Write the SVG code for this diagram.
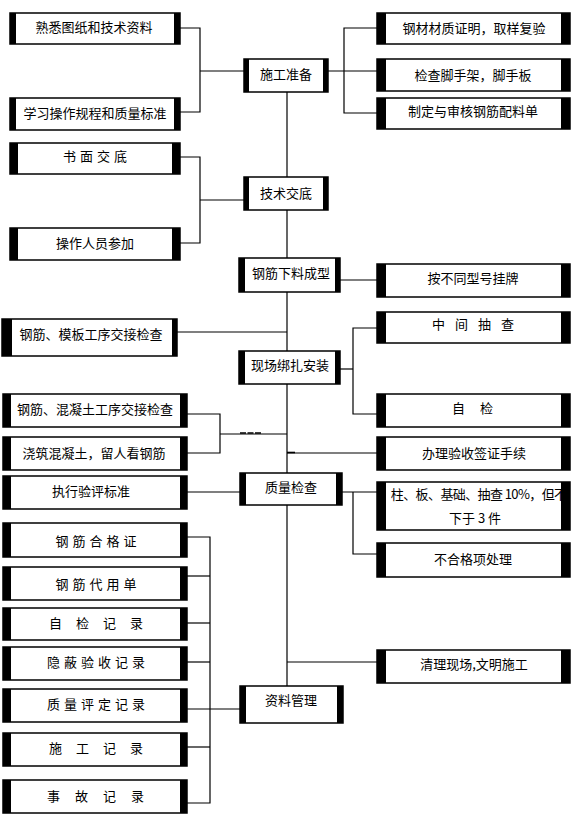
<svg xmlns="http://www.w3.org/2000/svg" width="576" height="818" viewBox="0 0 576 818">
<style>
.box{fill:#fff;stroke:#000;stroke-width:1.5}
.bar{fill:#000}
.t{font-family:"Noto Sans CJK SC","Noto Sans",sans-serif;font-size:13px;fill:#000;text-anchor:middle;dominant-baseline:central}
.ln{fill:none;stroke:#000;stroke-width:1.2}
</style>
<defs>
<clipPath id="clipQ"><rect x="377" y="482" width="193" height="48"/></clipPath>
</defs>
<rect width="576" height="818" fill="#fff"/>
<g id="connectors" class="ln">
<polyline points="180,28 200,28 200,112 180,112"/>
<line x1="200" y1="71" x2="244" y2="71"/>
<line x1="328" y1="71" x2="377" y2="71"/>
<polyline points="377,28 344,28 344,113 377,113"/>
<polyline points="180,157 200,157 200,243 180,243"/>
<line x1="200" y1="200" x2="244" y2="200"/>
<line x1="287" y1="92" x2="287" y2="177"/>
<line x1="287" y1="210" x2="287" y2="258"/>
<line x1="287" y1="292" x2="287" y2="351"/>
<line x1="287" y1="384" x2="287" y2="473"/>
<line x1="287" y1="505" x2="287" y2="686"/>
<line x1="340" y1="280" x2="377" y2="280"/>
<line x1="177" y1="332" x2="287" y2="332"/>
<line x1="340" y1="369" x2="353" y2="369"/>
<polyline points="377,328 353,328 353,414 377,414"/>
<polyline points="187,414 220,414 220,453 187,453"/>
<line x1="220" y1="434" x2="287" y2="434"/>
<line x1="240" y1="433" x2="262" y2="433" stroke-width="1.6" stroke-dasharray="6,1.5"/>
<line x1="287" y1="453" x2="377" y2="453"/>
<line x1="287" y1="452.5" x2="295" y2="452.5" stroke-width="1.6"/>
<line x1="187" y1="492" x2="240" y2="492"/>
<line x1="342" y1="492" x2="377" y2="492"/>
<polyline points="353,492 353,554 377,554"/>
<polyline points="187,537 210,537 210,803 187,803"/>
<line x1="187" y1="576" x2="210" y2="576"/>
<line x1="187" y1="623" x2="210" y2="623"/>
<line x1="187" y1="662" x2="210" y2="662"/>
<line x1="187" y1="709" x2="240" y2="709"/>
<line x1="187" y1="747" x2="210" y2="747"/>
<line x1="287" y1="662" x2="377" y2="662"/>
</g>

<g id="n_sgzb"><rect class="box" x="244" y="59" width="84" height="33"/><rect class="bar" x="244" y="59" width="5" height="33"/><rect class="bar" x="323" y="59" width="5" height="33"/><text class="t" x="286" y="73">施工准备</text></g>
<g id="n_jsjd"><rect class="box" x="244" y="177" width="84" height="33"/><rect class="bar" x="244" y="177" width="5" height="33"/><rect class="bar" x="323" y="177" width="5" height="33"/><text class="t" x="286" y="192">技术交底</text></g>
<g id="n_xlcx"><rect class="box" x="239" y="258" width="101" height="34"/><rect class="bar" x="239" y="258" width="6" height="34"/><rect class="bar" x="335" y="258" width="5" height="34"/><text class="t" x="291" y="272">钢筋下料成型</text></g>
<g id="n_xcbz"><rect class="box" x="239" y="351" width="101" height="33"/><rect class="bar" x="239" y="351" width="6" height="33"/><rect class="bar" x="335" y="351" width="5" height="33"/><text class="t" x="290" y="364">现场绑扎安装</text></g>
<g id="n_zljc"><rect class="box" x="240" y="473" width="102" height="32"/><rect class="bar" x="240" y="473" width="6" height="32"/><rect class="bar" x="336" y="473" width="6" height="32"/><text class="t" x="291" y="486">质量检查</text></g>
<g id="n_zlgl"><rect class="box" x="240" y="686" width="103" height="37"/><rect class="bar" x="240" y="686" width="6" height="37"/><rect class="bar" x="337" y="686" width="6" height="37"/><text class="t" x="291" y="699">资料管理</text></g>

<g id="n_l1"><rect class="box" x="10" y="13" width="170" height="31"/><rect class="bar" x="10" y="13" width="6" height="31"/><rect class="bar" x="174" y="13" width="6" height="31"/><text class="t" x="94" y="26">熟悉图纸和技术资料</text></g>
<g id="n_l2"><rect class="box" x="10" y="98" width="170" height="32"/><rect class="bar" x="10" y="98" width="6" height="32"/><rect class="bar" x="174" y="98" width="6" height="32"/><text class="t" x="95" y="112">学习操作规程和质量标准</text></g>
<g id="n_l3"><rect class="box" x="10" y="143" width="170" height="31"/><rect class="bar" x="10" y="143" width="8" height="31"/><rect class="bar" x="172" y="143" width="8" height="31"/><text class="t" x="97" y="155" letter-spacing="4">书面交底</text></g>
<g id="n_l4"><rect class="box" x="10" y="228" width="170" height="32"/><rect class="bar" x="10" y="228" width="8" height="32"/><rect class="bar" x="172" y="228" width="8" height="32"/><text class="t" x="95" y="242">操作人员参加</text></g>
<g id="n_l5"><rect class="box" x="2" y="319" width="175" height="37"/><rect class="bar" x="2" y="319" width="10" height="37"/><rect class="bar" x="172" y="319" width="5" height="37"/><text class="t" x="91" y="333">钢筋、模板工序交接检查</text></g>
<g id="n_l6"><rect class="box" x="3" y="394" width="184" height="33"/><rect class="bar" x="3" y="394" width="8" height="33"/><rect class="bar" x="180" y="394" width="7" height="33"/><text class="t" x="95" y="408">钢筋、混凝土工序交接检查</text></g>
<g id="n_l7"><rect class="box" x="3" y="437" width="184" height="33"/><rect class="bar" x="3" y="437" width="8" height="33"/><rect class="bar" x="180" y="437" width="7" height="33"/><text class="t" x="94" y="452">浇筑混凝土，留人看钢筋</text></g>
<g id="n_l8"><rect class="box" x="3" y="476" width="184" height="33"/><rect class="bar" x="3" y="476" width="8" height="33"/><rect class="bar" x="180" y="476" width="7" height="33"/><text class="t" x="91" y="490">执行验评标准</text></g>
<g id="n_l9"><rect class="box" x="3" y="523" width="184" height="34"/><rect class="bar" x="3" y="523" width="8" height="34"/><rect class="bar" x="180" y="523" width="7" height="34"/><text class="t" x="98" y="540" letter-spacing="4">钢筋合格证</text></g>
<g id="n_l10"><rect class="box" x="3" y="567" width="184" height="33"/><rect class="bar" x="3" y="567" width="8" height="33"/><rect class="bar" x="180" y="567" width="7" height="33"/><text class="t" x="98" y="583" letter-spacing="4">钢筋代用单</text></g>
<g id="n_l11"><rect class="box" x="3" y="608" width="184" height="32"/><rect class="bar" x="3" y="608" width="8" height="32"/><rect class="bar" x="180" y="608" width="7" height="32"/><text class="t" x="103" y="622" letter-spacing="14">自检记录</text></g>
<g id="n_l12"><rect class="box" x="3" y="647" width="184" height="33"/><rect class="bar" x="3" y="647" width="8" height="33"/><rect class="bar" x="180" y="647" width="7" height="33"/><text class="t" x="98" y="661" letter-spacing="4">隐蔽验收记录</text></g>
<g id="n_l13"><rect class="box" x="3" y="689" width="184" height="33"/><rect class="bar" x="3" y="689" width="8" height="33"/><rect class="bar" x="180" y="689" width="7" height="33"/><text class="t" x="98" y="703" letter-spacing="4">质量评定记录</text></g>
<g id="n_l14"><rect class="box" x="3" y="733" width="184" height="33"/><rect class="bar" x="3" y="733" width="8" height="33"/><rect class="bar" x="180" y="733" width="7" height="33"/><text class="t" x="103" y="747" letter-spacing="14">施工记录</text></g>
<g id="n_l15"><rect class="box" x="3" y="780" width="184" height="33"/><rect class="bar" x="3" y="780" width="8" height="33"/><rect class="bar" x="180" y="780" width="7" height="33"/><text class="t" x="103" y="795" letter-spacing="15">事故记录</text></g>

<g id="n_r1"><rect class="box" x="377" y="13" width="193" height="31"/><rect class="bar" x="377" y="13" width="9" height="31"/><rect class="bar" x="561" y="13" width="9" height="31"/><text class="t" x="474" y="27">钢材材质证明，取样复验</text></g>
<g id="n_r2"><rect class="box" x="377" y="59" width="193" height="32"/><rect class="bar" x="377" y="59" width="9" height="32"/><rect class="bar" x="561" y="59" width="9" height="32"/><text class="t" x="473" y="74">检查脚手架，脚手板</text></g>
<g id="n_r3"><rect class="box" x="377" y="98" width="193" height="31"/><rect class="bar" x="377" y="98" width="9" height="31"/><rect class="bar" x="561" y="98" width="9" height="31"/><text class="t" x="473" y="110">制定与审核钢筋配料单</text></g>
<g id="n_r4"><rect class="box" x="377" y="264" width="193" height="33"/><rect class="bar" x="377" y="264" width="9" height="33"/><rect class="bar" x="561" y="264" width="9" height="33"/><text class="t" x="473" y="277">按不同型号挂牌</text></g>
<g id="n_r5"><rect class="box" x="377" y="312" width="193" height="31"/><rect class="bar" x="377" y="312" width="9" height="31"/><rect class="bar" x="561" y="312" width="9" height="31"/><text class="t" x="478" y="323" letter-spacing="10">中间抽查</text></g>
<g id="n_r6"><rect class="box" x="377" y="394" width="193" height="33"/><rect class="bar" x="377" y="394" width="9" height="33"/><rect class="bar" x="561" y="394" width="9" height="33"/><text class="t" x="480" y="407" letter-spacing="15">自检</text></g>
<g id="n_r7"><rect class="box" x="377" y="437" width="193" height="33"/><rect class="bar" x="377" y="437" width="9" height="33"/><rect class="bar" x="561" y="437" width="9" height="33"/><text class="t" x="474" y="452">办理验收签证手续</text></g>
<g id="n_r8"><rect class="box" x="377" y="482" width="193" height="48"/><g clip-path="url(#clipQ)"><text class="t" x="366" y="493" letter-spacing="-0.6" style="text-anchor:start">梁、柱、板、基础、抽查 10%，但不</text></g><rect class="bar" x="377" y="482" width="9" height="48"/><rect class="bar" x="561" y="482" width="9" height="48"/><text class="t" x="475" y="517">下于 3 件</text></g>
<g id="n_r9"><rect class="box" x="377" y="543" width="193" height="34"/><rect class="bar" x="377" y="543" width="9" height="34"/><rect class="bar" x="561" y="543" width="9" height="34"/><text class="t" x="473" y="558">不合格项处理</text></g>
<g id="n_r10"><rect class="box" x="377" y="650" width="193" height="33"/><rect class="bar" x="377" y="650" width="9" height="33"/><rect class="bar" x="561" y="650" width="9" height="33"/><text class="t" x="474" y="663">清理现场,文明施工</text></g>
</svg>
